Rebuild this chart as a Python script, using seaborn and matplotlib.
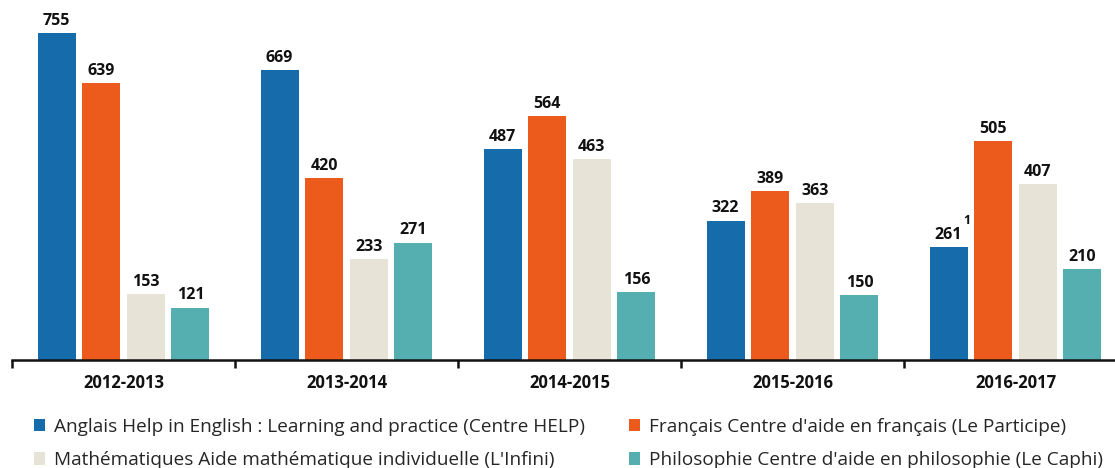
import pandas as pd
import matplotlib
matplotlib.use('Agg')
import matplotlib.pyplot as plt
import seaborn as sns

# data
years = ['2012-2013', '2013-2014', '2014-2015', '2015-2016', '2016-2017']
series = [
    "Anglais Help in English : Learning and practice (Centre HELP)",
    "Français Centre d'aide en français (Le Participe)",
    "Mathématiques Aide mathématique individuelle (L'Infini)",
    "Philosophie Centre d'aide en philosophie (Le Caphi)",
]
anglais = [755, 669, 487, 322, 261]
francais = [639, 420, 564, 389, 505]
maths = [153, 233, 463, 363, 407]
philo = [121, 271, 156, 150, 210]
colors = ['#166cab', '#ec5a1c', '#e7e3d7', '#55afb0']

rows = []
for name, vals in zip(series, [anglais, francais, maths, philo]):
    for y, v in zip(years, vals):
        rows.append({'year': y, 'serie': name, 'value': v})
df = pd.DataFrame(rows)

sns.set_style('white')
plt.rcParams['font.family'] = ['Open Sans', 'DejaVu Sans']

fig = plt.figure(figsize=(11.15, 4.68), dpi=100)
ax = fig.add_axes([12 / 1115, 108 / 468, 1.0, 360 / 468])

sns.barplot(data=df, x='year', y='value', hue='serie', hue_order=series,
            order=years, palette=colors, width=0.8, gap=0.15,
            saturation=1, ax=ax, legend=True, edgecolor='none')

ax.set_xlim(-0.5, 4.5)
ax.set_ylim(0, 831)

# value labels
for cont in ax.containers:
    ax.bar_label(cont, fmt='%d', padding=3, fontsize=11.5, fontweight='bold',
                 color='#111111')

# footnote "1" next to 261
bar261 = ax.containers[0][4]
ax.annotate('1', (bar261.get_x() + bar261.get_width() / 2, bar261.get_height()),
            xytext=(15, 20), textcoords='offset pixels', fontsize=9,
            fontweight='bold', color='#111111', ha='left', va='bottom')

for s in ['top', 'right', 'left']:
    ax.spines[s].set_visible(False)
ax.spines['bottom'].set_linewidth(1.8)
ax.spines['bottom'].set_color('#111111')
ax.set_yticks([])
ax.set_xlabel('')
ax.set_ylabel('')

ax.set_xticks(range(len(years)))
ax.set_xticklabels(years, fontsize=12, fontweight='bold', color='#111111')
ax.tick_params(axis='x', which='major', length=0, pad=10)
ax.set_xticks([i - 0.5 for i in range(len(years) + 1)], minor=True)
ax.tick_params(axis='x', which='minor', bottom=True, length=6, width=1.8,
               color='#111111', direction='out')

handles, labels = ax.get_legend_handles_labels()
ax.legend_.remove()
order = [0, 2, 1, 3]
fig.legend([handles[i] for i in order], [labels[i] for i in order],
           loc='upper left', bbox_to_anchor=(34 / 1115, 1 - 418 / 468),
           ncol=2, frameon=False, fontsize=13.7, handlelength=0.6,
           handleheight=0.6, handletextpad=0.45, columnspacing=2.3,
           labelspacing=0.8, borderaxespad=0, borderpad=0)

fig.savefig('out.png', dpi=100)
